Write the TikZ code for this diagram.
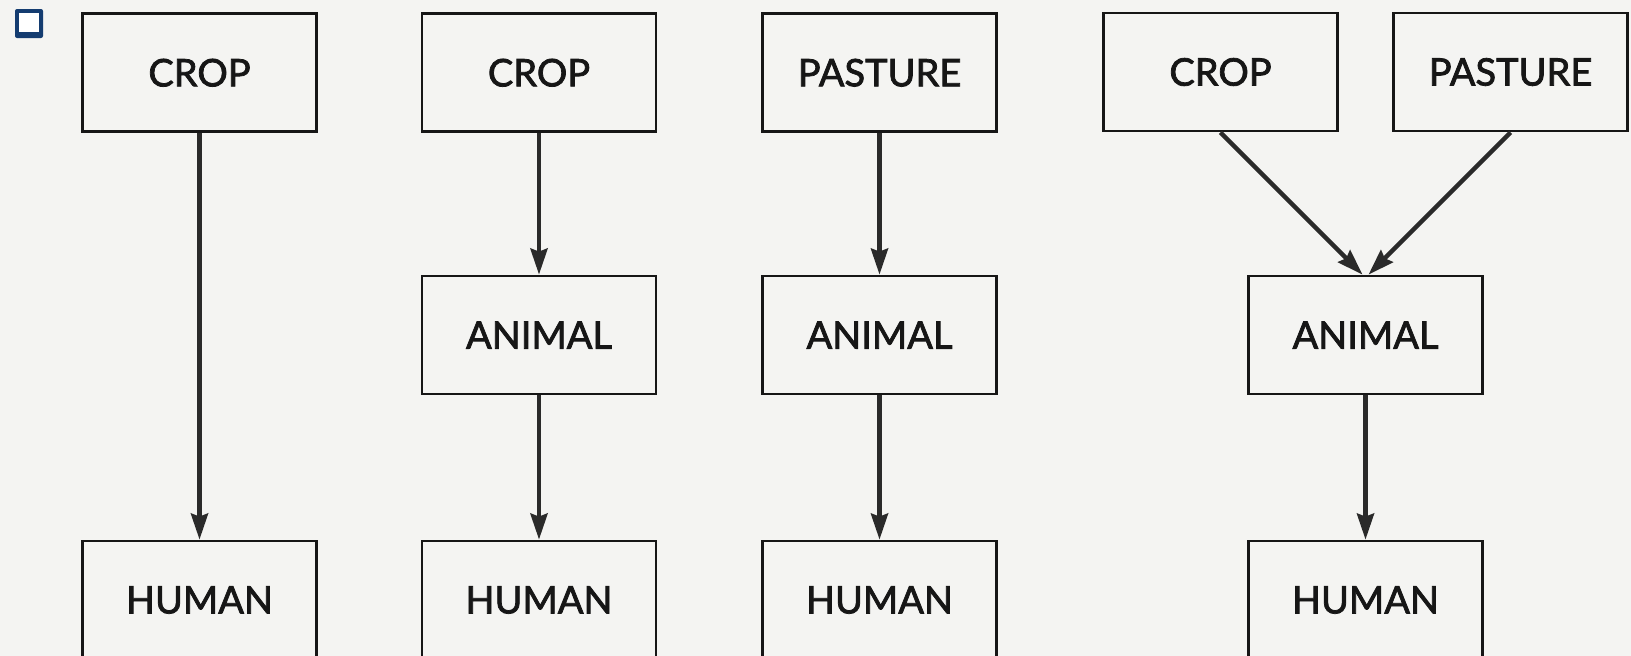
\documentclass[tikz,border=0pt]{standalone}
\usepackage{fontspec}
\setmainfont{Lato}
\newfontfamily\boxfont{Lato}[FakeBold=2]
\usetikzlibrary{arrows.meta}
\definecolor{paper}{HTML}{F4F4F2}
\definecolor{ink}{HTML}{161616}
\definecolor{arrowink}{HTML}{2A2A2A}
\definecolor{navy}{HTML}{143C70}
\tikzset{
  box/.style={draw=ink, line width=2.8pt, minimum width=234pt, minimum height=118pt, inner sep=0pt,
    font=\boxfont\fontsize{38}{44}\selectfont, text=ink},
  flow/.style={draw=arrowink, line width=4.4pt, -{Stealth[length=26pt,width=17pt,inset=3pt]}},
}
\begin{document}
\begin{tikzpicture}[x=1pt,y=-1pt]
\fill[paper] (0,0) rectangle (1631,656);
\useasboundingbox (0,0) rectangle (1631,656);
\clip (0,0) rectangle (1631,656);
% icon
\fill[navy, rounded corners=2pt] (15,9) rectangle (43,38);
\fill[white] (18.5,12.5) rectangle (39,32);
% column 1
\node[box] (crop1) at (199.5,72.75) {CROP};
\node[box] (human1) at (199.5,600) {HUMAN};
% column 2
\node[box] (crop2) at (539,72.75) {CROP};
\node[box] (animal2) at (539,335) {ANIMAL};
\node[box] (human2) at (539,600) {HUMAN};
% column 3
\node[box] (pasture3) at (879.5,72.75) {PASTURE};
\node[box] (animal3) at (879.5,335) {ANIMAL};
\node[box] (human3) at (879.5,600) {HUMAN};
% column 4
\node[box] (crop4) at (1220.5,72) {CROP};
\node[box] (pasture4) at (1510.5,72) {PASTURE};
\node[box] (animal4) at (1365.5,335) {ANIMAL};
\node[box] (human4) at (1365.5,600) {HUMAN};
\coordinate (a4l) at ([xshift=-3pt]animal4.north);
\coordinate (a4r) at ([xshift=3pt]animal4.north);
% arrows
\draw[flow] (crop1.south) -- (human1.north);
\draw[flow] (crop2.south) -- (animal2.north);
\draw[flow] (animal2.south) -- (human2.north);
\draw[flow] (pasture3.south) -- (animal3.north);
\draw[flow] (animal3.south) -- (human3.north);
\draw[flow] (crop4.south) -- (a4l);
\draw[flow] (pasture4.south) -- (a4r);
\draw[flow] (animal4.south) -- (human4.north);
\end{tikzpicture}
\end{document}
